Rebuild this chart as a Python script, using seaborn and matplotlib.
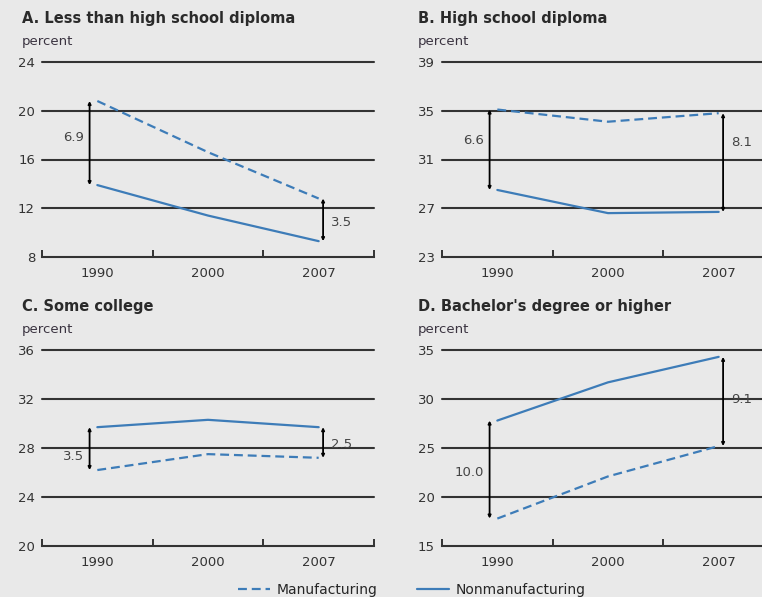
import numpy as np
import pandas as pd
import seaborn as sns
import matplotlib.pyplot as plt

years = ["1990", "2000", "2007"]

# values, percent
manuf_a = [20.8, 16.6, 12.8]
nonmanuf_a = [13.9, 11.4, 9.3]
manuf_b = [35.1, 34.1, 34.8]
nonmanuf_b = [28.5, 26.6, 26.7]
manuf_c = [26.2, 27.5, 27.2]
nonmanuf_c = [29.7, 30.3, 29.7]
manuf_d = [17.8, 22.1, 25.2]
nonmanuf_d = [27.8, 31.7, 34.3]

titles = ["A. Less than high school diploma", "B. High school diploma",
          "C. Some college", "D. Bachelor's degree or higher"]
yticks_a = [8, 12, 16, 20, 24]
yticks_b = [23, 27, 31, 35, 39]
yticks_c = [20, 24, 28, 32, 36]
yticks_d = [15, 20, 25, 30, 35]

gap_labels = [("6.9", "3.5"), ("6.6", "8.1"), ("3.5", "2.5"), ("10.0", "9.1")]
gap_label_y = [(17.8, 10.8), (32.6, 32.4), (27.3, 28.3), (22.5, 29.9)]

panels = [
    (manuf_a, nonmanuf_a, yticks_a),
    (manuf_b, nonmanuf_b, yticks_b),
    (manuf_c, nonmanuf_c, yticks_c),
    (manuf_d, nonmanuf_d, yticks_d),
]

bg = "#e9e9e9"
blue = "#3d7cb8"
dark = "#333333"

sns.set_style("white", {"axes.facecolor": bg, "figure.facecolor": bg,
                        "xtick.bottom": True})
plt.rcParams["font.family"] = ["DejaVu Sans"]

fig = plt.figure(figsize=(7.62, 5.97), dpi=100)
W, H = 762, 597
boxes = [(42, 62, 257), (442, 62, 257), (42, 350, 546), (442, 350, 546)]
title_pos = [(22, 18, 42), (418, 18, 42), (22, 307, 330), (418, 307, 330)]

handles = None
for i, (m, n, yt) in enumerate(panels):
    left, top, bottom = boxes[i]
    ax = fig.add_axes([left / W, 1 - bottom / H, 332 / W, (bottom - top) / H])
    df = pd.DataFrame({
        "x": list(range(3)) * 2,
        "value": m + n,
        "series": ["Manufacturing"] * 3 + ["Nonmanufacturing"] * 3,
    })
    sns.lineplot(data=df, x="x", y="value", hue="series", style="series",
                 palette={"Manufacturing": blue, "Nonmanufacturing": blue},
                 dashes={"Manufacturing": (4, 2.2), "Nonmanufacturing": ""},
                 linewidth=1.6, ax=ax, legend=(i == 0), zorder=3)
    if i == 0:
        handles, labels = ax.get_legend_handles_labels()
        ax.get_legend().remove()

    ax.set_xlim(-0.5, 2.5)
    ax.set_ylim(yt[0], yt[-1])
    ax.set_yticks(yt)
    ax.set_xticks([0, 1, 2])
    ax.set_xticklabels(years)
    ax.set_xticks([-0.5, 0.5, 1.5, 2.5], minor=True)
    ax.set_xlabel("")
    ax.set_ylabel("")
    ax.tick_params(axis="x", which="major", bottom=True, length=0, pad=7,
                   labelsize=9.5, labelcolor=dark)
    ax.tick_params(axis="x", which="minor", bottom=True, direction="in",
                   length=5, width=1.4, color=dark)
    ax.tick_params(axis="y", length=0, pad=5, labelsize=9.5, labelcolor=dark)
    for yv in yt[1:]:
        ax.axhline(yv, color=dark, lw=1.5, zorder=1, clip_on=False)
    for s in ["top", "right", "left"]:
        ax.spines[s].set_visible(False)
    ax.spines["bottom"].set_color(dark)
    ax.spines["bottom"].set_linewidth(1.5)

    # gap arrows at 1990 and 2007
    lab0, lab1 = gap_labels[i]
    ly0, ly1 = gap_label_y[i]
    x0, x1 = -0.07, 2.04
    ax.annotate("", xy=(x0, m[0]), xytext=(x0, n[0]),
                arrowprops=dict(arrowstyle="<|-|>", color="black", lw=1.3,
                                mutation_scale=4, shrinkA=0, shrinkB=0), zorder=4)
    ax.annotate("", xy=(x1, m[2]), xytext=(x1, n[2]),
                arrowprops=dict(arrowstyle="<|-|>", color="black", lw=1.3,
                                mutation_scale=4, shrinkA=0, shrinkB=0), zorder=4)
    ax.text(x0 - 0.05, ly0, lab0, ha="right", va="center", fontsize=9.5, color="#444444")
    ax.text(x1 + 0.07, ly1, lab1, ha="left", va="center", fontsize=9.5, color="#444444")

    tx, ty, py = title_pos[i]
    fig.text(tx / W, 1 - ty / H, titles[i], ha="left", va="center",
             fontsize=10.5, fontweight="bold", color="#2a2a2a")
    fig.text(tx / W, 1 - py / H, "percent", ha="left", va="center",
             fontsize=9.5, color="#3a3340")

fig.legend(handles, labels, loc="center", bbox_to_anchor=(412 / W, 1 - 590 / H),
           ncol=2, frameon=False, fontsize=10, handlelength=2.3,
           handletextpad=0.5, columnspacing=2.8)

fig.savefig("out.png", dpi=100, facecolor=bg)
